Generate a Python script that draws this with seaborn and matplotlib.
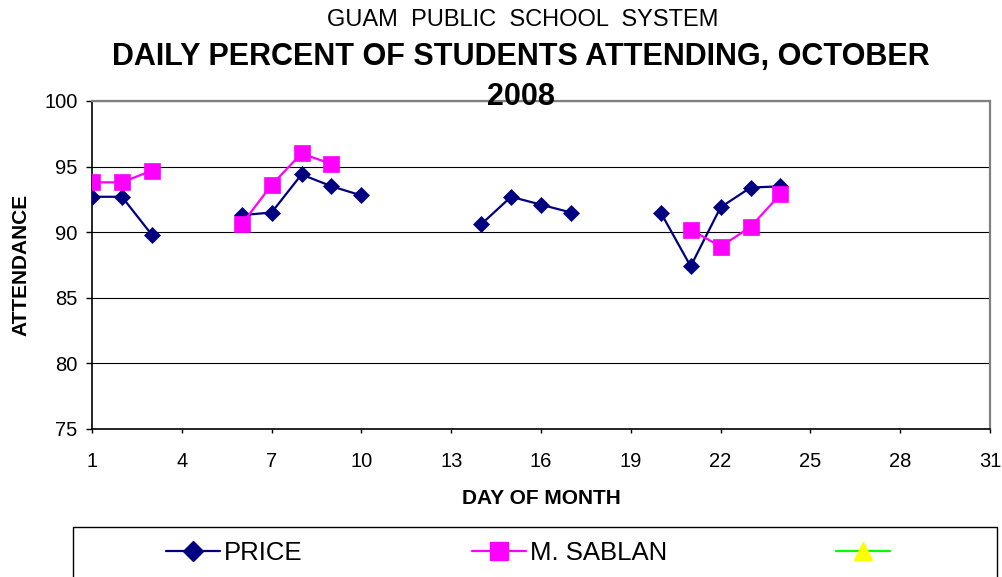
import numpy as np
import pandas as pd
import matplotlib
matplotlib.use("Agg")
import matplotlib.pyplot as plt
from matplotlib.lines import Line2D
from matplotlib.patches import Rectangle
import seaborn as sns

nan = np.nan

# 每日出勤率 (10 月 1-24 日，周末为空)
days = list(range(1, 25))
price = [92.7, 92.7, 89.8, nan, nan, 91.3, 91.5, 94.4, 93.5, 92.8, nan, nan,
         nan, 90.6, 92.7, 92.1, 91.5, nan, nan, 91.5, 87.4, 91.9, 93.4, 93.5]
sablan = [93.8, 93.8, 94.7, nan, nan, 90.6, 93.6, 96.0, 95.2, nan, nan, nan,
          nan, nan, nan, nan, nan, nan, nan, nan, 90.2, 88.9, 90.4, 92.9]
series_names = ["PRICE", "M. SABLAN", ""]

x_ticks = list(range(1, 32, 3))
y_ticks = [75, 80, 85, 90, 95, 100]

sns.set_style("white")
plt.rcParams['font.family'] = ['Liberation Sans', 'DejaVu Sans']
plt.rcParams['text.color'] = 'black'
plt.rcParams['axes.labelcolor'] = 'black'
plt.rcParams['xtick.color'] = 'black'
plt.rcParams['ytick.color'] = 'black'

W, H = 1002, 577
fig = plt.figure(figsize=(W / 100, H / 100), dpi=100)
ax = fig.add_axes([92 / W, 1 - 429 / H, (990 - 92) / W, 328 / H])


def draw_segments(values, color, marker, ms):
    # 按连续上课日分段画线，周末断开
    df = pd.DataFrame({'day': days, 'val': values})
    df['seg'] = df['val'].isna().cumsum()
    df = df.dropna()
    for _, sub in df.groupby('seg'):
        sns.lineplot(data=sub, x='day', y='val', ax=ax, color=color, linewidth=1.6,
                     marker=marker, markersize=ms, markeredgecolor=color,
                     markeredgewidth=0.5, legend=False, zorder=3)


draw_segments(price, '#000080', 'D', 8.2)
draw_segments(sablan, '#FF00FF', 's', 11.0)

ax.set_xlim(1, 31)
ax.set_ylim(75, 100)
ax.set_xticks(x_ticks)
ax.set_yticks(y_ticks)
ax.yaxis.grid(True, color='black', linewidth=0.8)
ax.set_axisbelow(True)

for side in ['top', 'right']:
    ax.spines[side].set_color('#808080')
    ax.spines[side].set_linewidth(1.6)
for side in ['left', 'bottom']:
    ax.spines[side].set_color('black')
    ax.spines[side].set_linewidth(1.2)

ax.tick_params(axis='y', direction='out', length=4.5, width=1,
               labelsize=14.5, pad=6, left=True)
ax.tick_params(axis='x', direction='out', length=3, width=1,
               labelsize=14.5, pad=13.5, bottom=True)

ax.set_xlabel('DAY OF MONTH', fontsize=15, fontweight='bold', labelpad=13)
ax.set_ylabel('ATTENDANCE', fontsize=15, fontweight='bold')
ax.yaxis.set_label_coords(-0.069, 0.5)

fig.text(523 / W, 1 - 20 / H, 'GUAM  PUBLIC  SCHOOL  SYSTEM', fontsize=17,
         ha='center', va='center')
fig.text(521 / W, 1 - 57 / H, 'DAILY PERCENT OF STUDENTS ATTENDING, OCTOBER',
         fontsize=22, fontweight='bold', ha='center', va='center')
fig.text(521 / W, 1 - 97 / H, '2008', fontsize=22, fontweight='bold',
         ha='center', va='center')

# 图例 (第三个系列无名称、无数据)
handles = [
    Line2D([], [], color='#000080', lw=1.6, marker='D', markersize=10.5),
    Line2D([], [], color='#FF00FF', lw=1.6, marker='s', markersize=13.0),
    Line2D([], [], color='#00FF00', lw=1.6, marker='^', markersize=13.0,
           markerfacecolor='#FFFF00', markeredgecolor='#FFFF00'),
]
fig.legend(handles, series_names, loc='center', ncol=3,
           bbox_to_anchor=(530 / W, 1 - 553 / H), frameon=False, fontsize=18.5,
           handlelength=2.1, handletextpad=0.15, columnspacing=6.6)
fig.patches.append(Rectangle((73 / W, -0.1), (997 - 73) / W, 0.1 + (577 - 527) / H,
                             transform=fig.transFigure, fill=False,
                             edgecolor='black', linewidth=1.0))

fig.savefig('out.png', dpi=100)
